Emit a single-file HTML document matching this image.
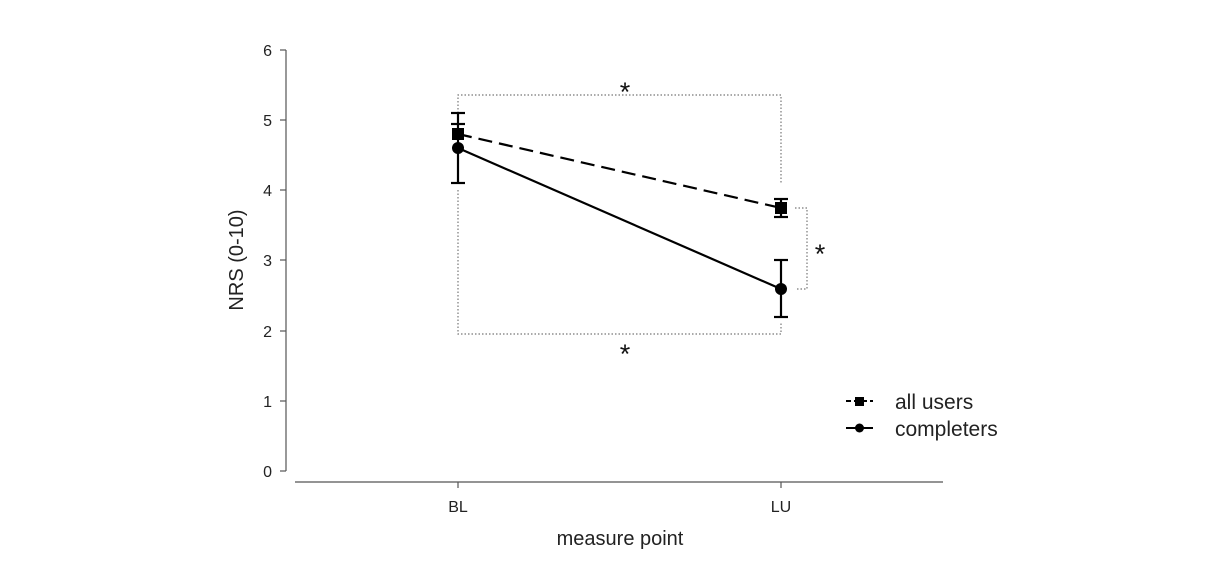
<!DOCTYPE html>
<html><head><style>body{margin:0;background:#fff}</style></head><body>
<svg width="1225" height="580" viewBox="0 0 1225 580" xmlns="http://www.w3.org/2000/svg" font-family="Liberation Sans, sans-serif">
<g stroke="#555" stroke-width="1.2" fill="none">
<line x1="286" y1="50" x2="286" y2="471"/>
<line x1="280" y1="50" x2="286" y2="50"/><line x1="280" y1="120" x2="286" y2="120"/><line x1="280" y1="190" x2="286" y2="190"/><line x1="280" y1="260" x2="286" y2="260"/><line x1="280" y1="331" x2="286" y2="331"/><line x1="280" y1="401" x2="286" y2="401"/><line x1="280" y1="471" x2="286" y2="471"/>
<line x1="295" y1="482" x2="943" y2="482"/>
<line x1="458" y1="482" x2="458" y2="488"/><line x1="781" y1="482" x2="781" y2="488"/>
</g>
<g font-size="16" fill="#222" text-anchor="end">
<text x="272" y="56">6</text><text x="272" y="126">5</text><text x="272" y="196">4</text><text x="272" y="266">3</text><text x="272" y="337">2</text><text x="272" y="407">1</text><text x="272" y="477">0</text>
</g>
<g font-size="16" fill="#222" text-anchor="middle"><text x="458" y="512">BL</text><text x="781" y="512">LU</text></g>
<text x="620" y="545" font-size="20" text-anchor="middle" fill="#222">measure point</text>
<text transform="translate(243 260) rotate(-90)" font-size="20" text-anchor="middle" fill="#222">NRS (0-10)</text>
<g stroke="#777" stroke-width="1.2" stroke-dasharray="1.5 2" fill="none">
<polyline points="458,113 458,95 781,95 781,183"/>
<polyline points="458,190 458,334 781,334 781,322"/>
<polyline points="795,208 807,208 807,289 795,289"/>
</g>
<g font-size="27" fill="#111" text-anchor="middle"><text x="625" y="101">*</text><text x="625" y="363">*</text><text x="820" y="263">*</text></g>
<g stroke="#000" stroke-width="2.2" fill="none">
<line x1="458" y1="134" x2="781" y2="208" stroke-dasharray="14 7"/>
<line x1="458" y1="148" x2="781" y2="289"/>
<line x1="458" y1="113" x2="458" y2="183"/><line x1="451" y1="113" x2="465" y2="113"/><line x1="451" y1="183" x2="465" y2="183"/>
<line x1="451" y1="124" x2="465" y2="124"/>
<line x1="781" y1="199" x2="781" y2="217"/><line x1="774" y1="199" x2="788" y2="199"/><line x1="774" y1="217" x2="788" y2="217"/>
<line x1="781" y1="260" x2="781" y2="317"/><line x1="774" y1="260" x2="788" y2="260"/><line x1="774" y1="317" x2="788" y2="317"/>
</g>
<rect x="452" y="128" width="12" height="12" fill="#000"/>
<circle cx="458" cy="148" r="6" fill="#000"/>
<rect x="775" y="202" width="12" height="12" fill="#000"/>
<circle cx="781" cy="289" r="6" fill="#000"/>
<g stroke="#000" stroke-width="2" fill="none">
<line x1="846" y1="401" x2="873" y2="401" stroke-dasharray="5 3"/>
<line x1="846" y1="428" x2="873" y2="428"/>
</g>
<rect x="855" y="397" width="9" height="9" fill="#000"/>
<circle cx="859.5" cy="428" r="4.5" fill="#000"/>
<g font-size="21" fill="#222"><text x="895" y="409">all users</text><text x="895" y="436">completers</text></g>
</svg>
</body></html>
